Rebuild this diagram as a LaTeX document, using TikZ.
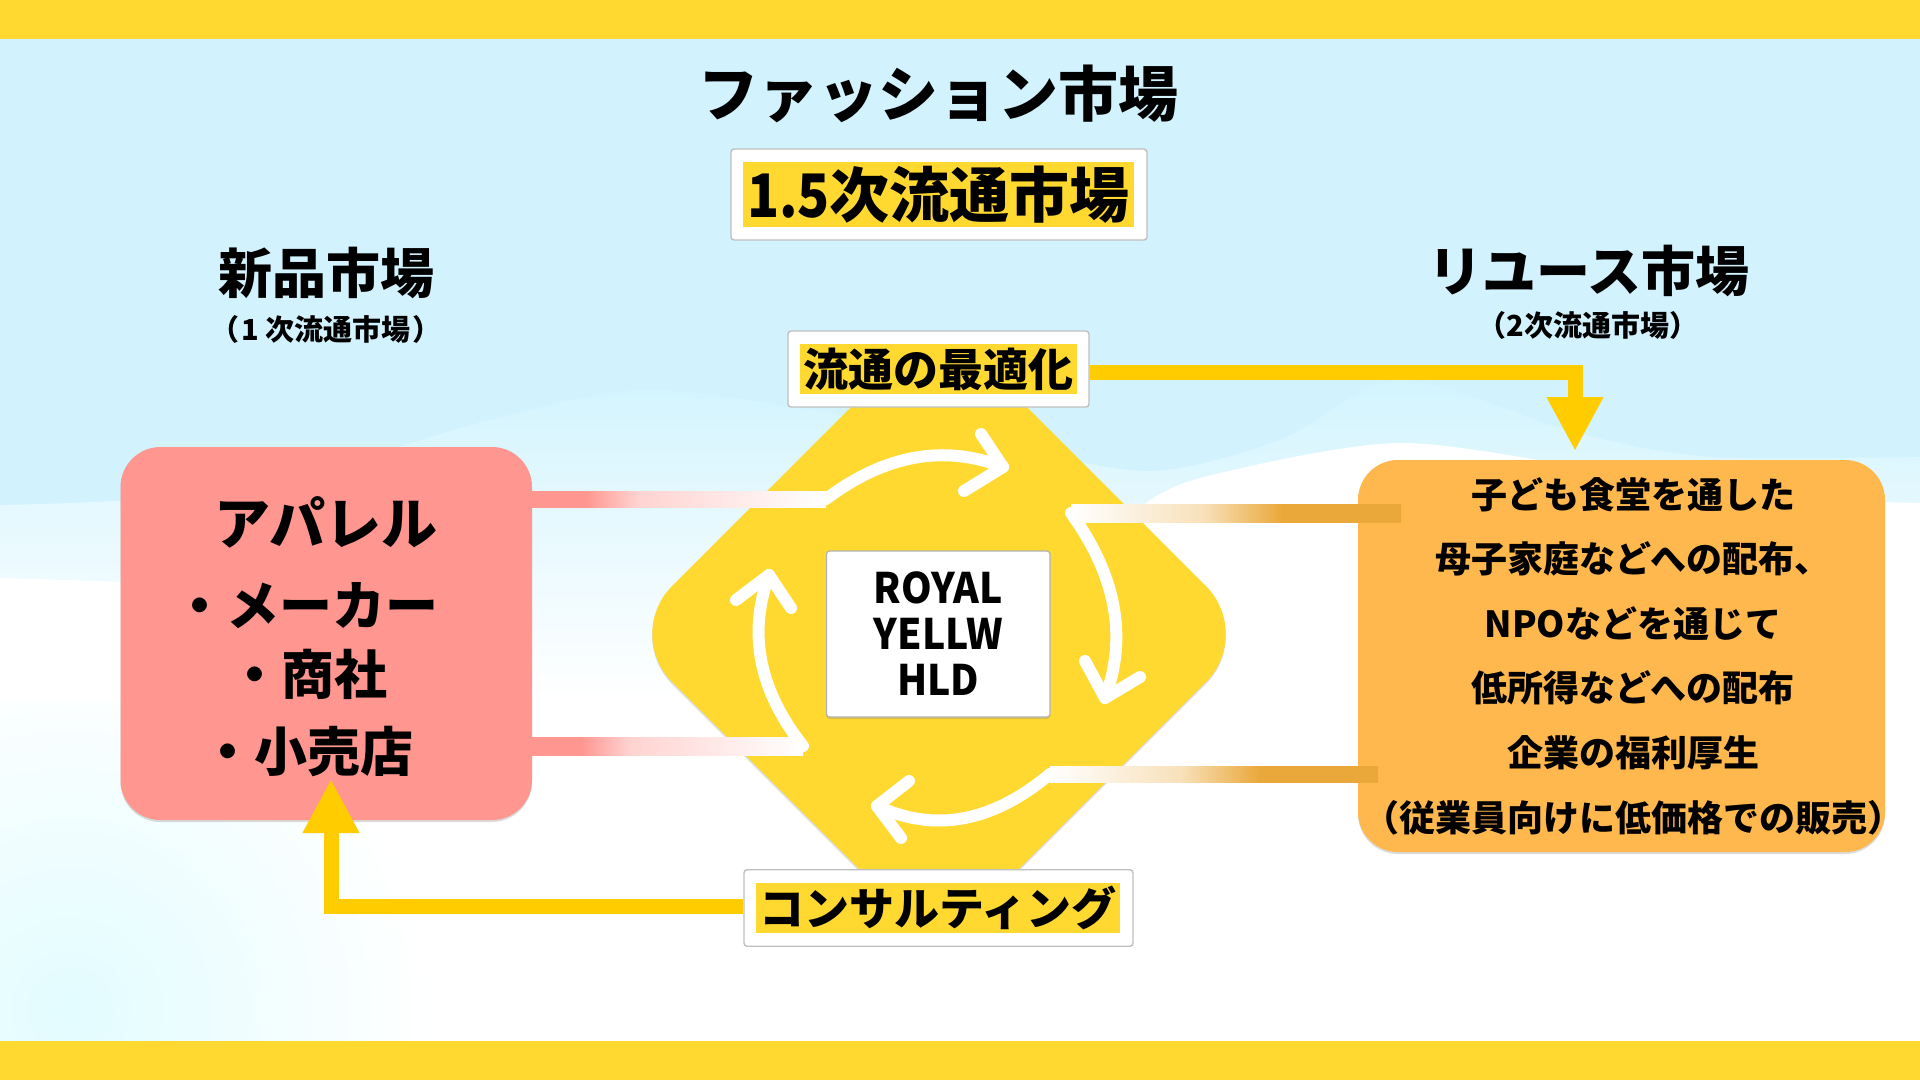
\documentclass[tikz,border=0pt]{standalone}
\usepackage{fontspec}
\setmainfont{Noto Sans CJK JP}
\usetikzlibrary{arrows.meta,shapes.geometric,shadows,calc}
\definecolor{barY}{HTML}{FFD930}
\definecolor{flowY}{HTML}{FFCC00}
\definecolor{skyA}{HTML}{D2F3FE}
\definecolor{skyT}{HTML}{D3F4FE}
\definecolor{skyB}{HTML}{DCF9FF}
\definecolor{skyG}{HTML}{E2FCFF}
\definecolor{salmon}{HTML}{FF9690}
\definecolor{amber}{HTML}{FFB84D}
\definecolor{barO}{HTML}{EAA83A}
\pgfdeclarehorizontalshading{pinkfade}{100bp}{color(0bp)=(salmon);color(25bp)=(salmon);color(34bp)=(salmon);color(43bp)=(salmon!42!white);color(75bp)=(white);color(100bp)=(white)}
\pgfdeclarehorizontalshading{orangefade}{100bp}{color(0bp)=(white);color(25bp)=(white);color(45bp)=(barO!35!white);color(57bp)=(barO);color(75bp)=(barO);color(100bp)=(barO)}
\tikzset{
  softshadow/.style={drop shadow={opacity=.28,shadow xshift=0pt,shadow yshift=-2pt}},
  panel/.style={draw=none,rounded corners=40pt,inner sep=0pt,softshadow},
  labelbox/.style={fill=white,draw=black!25,line width=1.4pt,rounded corners=3pt,inner sep=0pt},
  marker/.style={fill=barY,inner sep=0pt,font=\bfseries},
  flow/.style={draw=flowY,line width=15pt,-{Triangle[length=54pt,width=53pt]}},
  spin/.style={draw=white,line width=12pt,line cap=round,line join=round},
  txt/.style={inner sep=0pt,text=black},
}
\begin{document}
\begin{tikzpicture}[x=1pt,y=-1pt]
\useasboundingbox (0,0) rectangle (1920,1080);
% background
\fill[skyA] (0,0) rectangle (1920,1080);
\fill[white] (0,700) rectangle (1920,1080);
\shade[top color=skyT,middle color=skyB,bottom color=white]
  plot[smooth] coordinates {(0,505) (240,490) (490,420) (640,390) (800,408) (1000,445) (1150,471) (1280,440) (1400,380) (1577,433) (1711,457) (1920,457)}
  -- (1920,700) -- (0,700) -- cycle;
\fill[white] plot[smooth] coordinates {(0,578) (125,582) (300,590) (430,700)} -- (0,700) -- cycle;
\fill[white] plot[smooth] coordinates {(1085,560) (1150,500) (1220,473) (1400,443) (1600,470) (1800,497) (1920,503)} -- (1920,700) -- (1085,700) -- cycle;
\begin{scope}
\clip (0,700) rectangle (700,1041);
\shade[inner color=skyG,outer color=white] (70,1010) circle[radius=360];
\end{scope}
\fill[barY] (0,0) rectangle (1920,39);
\fill[barY] (0,1041) rectangle (1920,1080);

% hub
\node[diamond,aspect=1,minimum width=630pt,minimum height=630pt,inner sep=0pt,rounded corners=68pt,fill=barY,softshadow] (hub) at (939,634) {};

% panels
\node[panel,fill=salmon,minimum width=411.5pt,minimum height=373pt] (maker) at (326.25,633.5) {};
\node[panel,fill=amber,minimum width=527pt,minimum height=392pt] (reuse) at (1621.5,656) {};

% spin arrows
\coordinate (s1) at (826,499); \coordinate (t1) at (1003,467);
\coordinate (s2) at (1071,513); \coordinate (t2) at (1105,698);
\coordinate (s3) at (1050,774); \coordinate (t3) at (877,806);
\coordinate (s4) at (803,746); \coordinate (t4) at (769,575);
\draw[spin] (s1) .. controls (885,454.7) and (944,444) .. (t1);
\draw[spin] (981,434) -- (t1) -- (964,491);
\draw[spin] (s2) .. controls (1116.3,575.7) and (1127.7,637.3) .. (t2);
\draw[spin] (1085,661) -- (t2) -- (1140,677);
\draw[spin] (s3) .. controls (992.3,822.3) and (934.7,833) .. (t3);
\draw[spin] (909,781) -- (t3) -- (901,838);
\draw[spin] (s4) .. controls (759,690.7) and (747.7,633.7) .. (t4);
\draw[spin] (736,600) -- (t4) -- (791,608);

% gradient connectors
\shade[shading=pinkfade] ($(maker.east|-s1)+(0,-8)$) rectangle ($(s1)+(0,8)$);
\shade[shading=pinkfade] ($(maker.east|-s4)+(0,-9)$) rectangle ($(s4)+(0,9)$);
\coordinate (r1) at (1401,513); \coordinate (r2) at (1378,774);
\shade[shading=orangefade] ($(s2|-r1)+(0,-9)$) rectangle ($(r1)+(0,9)$);
\shade[shading=orangefade] ($(s3)+(0,-8)$) rectangle ($(r2)+(0,8)$);

% centre
\node[fill=white,draw=black!30,line width=1.2pt,rounded corners=3pt,minimum width=223.5pt,minimum height=166pt,inner sep=0pt,softshadow,font=\fontsize{42}{46}\selectfont\bfseries\addfontfeature{FakeStretch=0.93},align=center] (core) at (938.25,634) {ROYAL\\YELLW\\HLD};

% label boxes
\node[labelbox,minimum width=416pt,minimum height=91pt] (tbox) at (939,194.5) {};
\node[marker,minimum width=391pt,minimum height=65pt,font=\fontsize{60}{60}\selectfont\bfseries] (tmark) at (938.5,194.5) {{\addfontfeature{FakeStretch=0.88}1.5}次流通市場};
\node[labelbox,minimum width=301pt,minimum height=76pt] (opt) at (938.5,369) {};
\node[marker,minimum width=277pt,minimum height=49.5pt,font=\fontsize{45}{45}\selectfont\bfseries] (optmark) at (938.5,369) {流通の最適化};
\node[labelbox,minimum width=389pt,minimum height=76.5pt] (cons) at (938.5,908) {};
\node[marker,minimum width=364pt,minimum height=50pt,font=\fontsize{45}{45}\selectfont\bfseries] (consmark) at (938,908) {コンサルティング};

% yellow arrows
\coordinate (turn1) at (1575,372); \coordinate (tip1) at (1575,451);
\draw[flow] (opt.east|-turn1) -- (turn1) -- (tip1);
\coordinate (turn2) at (331,906.5); \coordinate (tip2) at (331,779);
\draw[flow] (cons.west|-turn2) -- (turn2) -- (tip2);

% headings
\node[txt,font=\fontsize{60}{60}\selectfont\bfseries] (title) at (938,94) {ファッション市場};
\node[txt,font=\fontsize{54}{54}\selectfont\bfseries] (newh) at (326,273) {新品市場};
\node[txt,font=\fontsize{29}{29}\selectfont\bfseries] (newsub) at (326,329) {（\kern2pt 1 次流通市場\kern2pt ）};
\node[txt,font=\fontsize{54}{54}\selectfont\bfseries] (useh) at (1589,271) {リユース市場};
\node[txt,font=\fontsize{29}{29}\selectfont\bfseries] (usesub) at (1588,325) {（2次流通市場）};

% panel text
\node[txt,font=\fontsize{56}{56}\selectfont\bfseries] (m1) at (326,522) {アパレル};
\node[txt,font=\fontsize{53}{53}\selectfont\bfseries] (m2) at (306,606) {・メーカー};
\node[txt,font=\fontsize{53}{53}\selectfont\bfseries] (m3) at (308,674) {・商社};
\node[txt,font=\fontsize{53}{53}\selectfont\bfseries] (m4) at (307,751) {・小売店};
\node[txt,font=\fontsize{36}{64.6}\selectfont\bfseries,align=center] (rt) at (1633,656) {子ども食堂を通した\\母子家庭などへの配布、\\NPOなどを通じて\\低所得などへの配布\\企業の福利厚生\\（従業員向けに低価格での販売）};
\end{tikzpicture}
\end{document}
